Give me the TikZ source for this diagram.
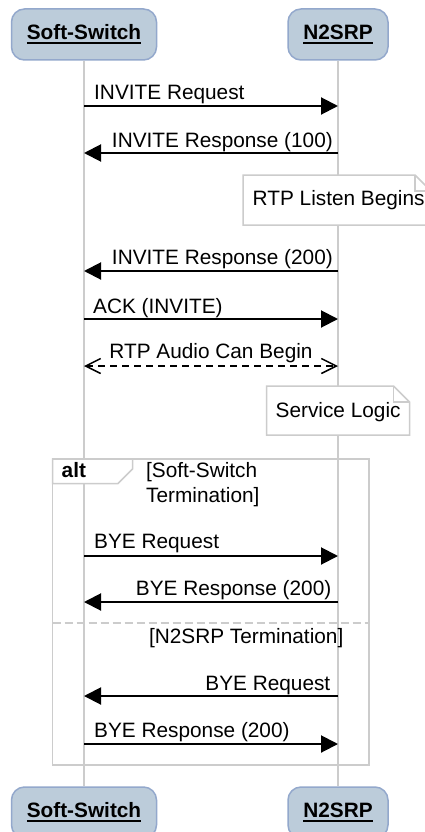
\documentclass[tikz,border=0pt]{standalone}
\usepackage{fontspec}
\setmainfont{Liberation Sans}
\usetikzlibrary{arrows.meta}
\definecolor{pfill}{HTML}{BCCCDA}
\definecolor{pdraw}{HTML}{93A8CC}
\definecolor{lgray}{HTML}{CCCCCC}
\newcommand\myul[1]{\setbox0\hbox{#1}\rlap{\rule[-4.2pt]{\wd0}{1.8pt}}\box0}
\begin{document}
\begin{tikzpicture}[x=1pt,y=-1pt,
  every node/.style={font=\fontsize{20.8}{25}\selectfont, inner sep=0pt},
  part/.style={draw=pdraw, fill=pfill, line width=1.5pt, rounded corners=13pt,
    minimum height=51pt, inner sep=0pt, font=\fontsize{20.8}{25}\selectfont\bfseries},
  life/.style={draw=lgray, line width=1.5pt},
  msg/.style={line width=2pt, -{Triangle[length=17pt,width=17pt]}},
  rtp/.style={line width=1.5pt, dash pattern=on 7pt off 5pt,
    {Straight Barb[length=15pt,width=15pt]}-{Straight Barb[length=15pt,width=15pt]}},
  lbl/.style={anchor=base west},
  lblr/.style={anchor=base east},
  notebox/.style={draw=lgray, fill=white, line width=1.5pt},
  framebox/.style={draw=lgray, line width=1.5pt},
]
\useasboundingbox (0,0) rectangle (424,832);
\fill[white] (0,0) rectangle (424,832);

% participants
\node[part, minimum width=145pt] (ss) at (84,34.5) {\myul{Soft-Switch}};
\node[part, minimum width=100pt] (n2) at (338,34.5) {\myul{N2SRP}};
\node[part, minimum width=145pt] (ssb) at (84,812.5) {\myul{Soft-Switch}};
\node[part, minimum width=100pt] (n2b) at (338,812.5) {\myul{N2SRP}};

% lifelines
\draw[life] (ss) -- (ssb);
\draw[life] (n2) -- (n2b);

% message coordinates
\foreach \i/\y in {1/106,2/153,4/271,5/319,6/366,9/556,10/602,13/696,14/744}{
  \coordinate (a\i) at (84,\y);
  \coordinate (b\i) at (338,\y);
}

% 1
\node[lbl] (t1) at (94,100) {INVITE Request};
\draw[msg] (a1) -- (b1);
% 2
\node[lblr] (t2) at (333,147) {INVITE Response (100)};
\draw[msg] (b2) -- (a2);
% note 1
\draw[notebox] (243,175) -- (415,175) -- (431,191) -- (431,225) -- (243,225) -- cycle;
\draw[draw=lgray, line width=1.5pt] (415,175) -- (415,191) -- (431,191);
\node[lbl] (n1t) at (252.5,205) {RTP Listen Begins};
% 4
\node[lblr] (t4) at (333,264.5) {INVITE Response (200)};
\draw[msg] (b4) -- (a4);
% 5
\node[lbl] (t5) at (93,313) {ACK (INVITE)};
\draw[msg] (a5) -- (b5);
% 6
\node[anchor=base] (t6) at (211,358.5) {RTP Audio Can Begin};
\draw[rtp] (a6) -- (b6);
% note 2
\draw[notebox] (266.5,386) -- (393.5,386) -- (409.5,402) -- (409.5,435) -- (266.5,435) -- cycle;
\draw[draw=lgray, line width=1.5pt] (393.5,386) -- (393.5,402) -- (409.5,402);
\node[lbl] (n2t) at (275.5,417) {Service Logic};

% alt frame
\draw[framebox] (52.5,459) rectangle (369,765);
\draw[framebox, fill=white] (52.5,459) -- (132.5,459) -- (132.5,469) -- (118,483.5) -- (52.5,483.5) -- cycle;
\node[lbl, font=\fontsize{20.8}{25}\selectfont\bfseries] (alt) at (61.5,477) {alt};
\node[lbl] (c1a) at (146,477) {[Soft-Switch};
\node[lbl] (c1b) at (146,502) {Termination]};
% 9
\node[lbl] (t9) at (94,548) {BYE Request};
\draw[msg] (a9) -- (b9);
% 10
\node[lblr] (t10) at (331.5,595) {BYE Response (200)};
\draw[msg] (b10) -- (a10);
% separator
\draw[draw=lgray, line width=1.5pt, dash pattern=on 8pt off 4pt] (52.5,623) -- (369,623);
\node[lblr] (c2) at (343.5,643) {[N2SRP Termination]};
% 13
\node[lblr] (t13) at (330.5,690) {BYE Request};
\draw[msg] (b13) -- (a13);
% 14
\node[lbl] (t14) at (94,737) {BYE Response (200)};
\draw[msg] (a14) -- (b14);
\end{tikzpicture}
\end{document}
